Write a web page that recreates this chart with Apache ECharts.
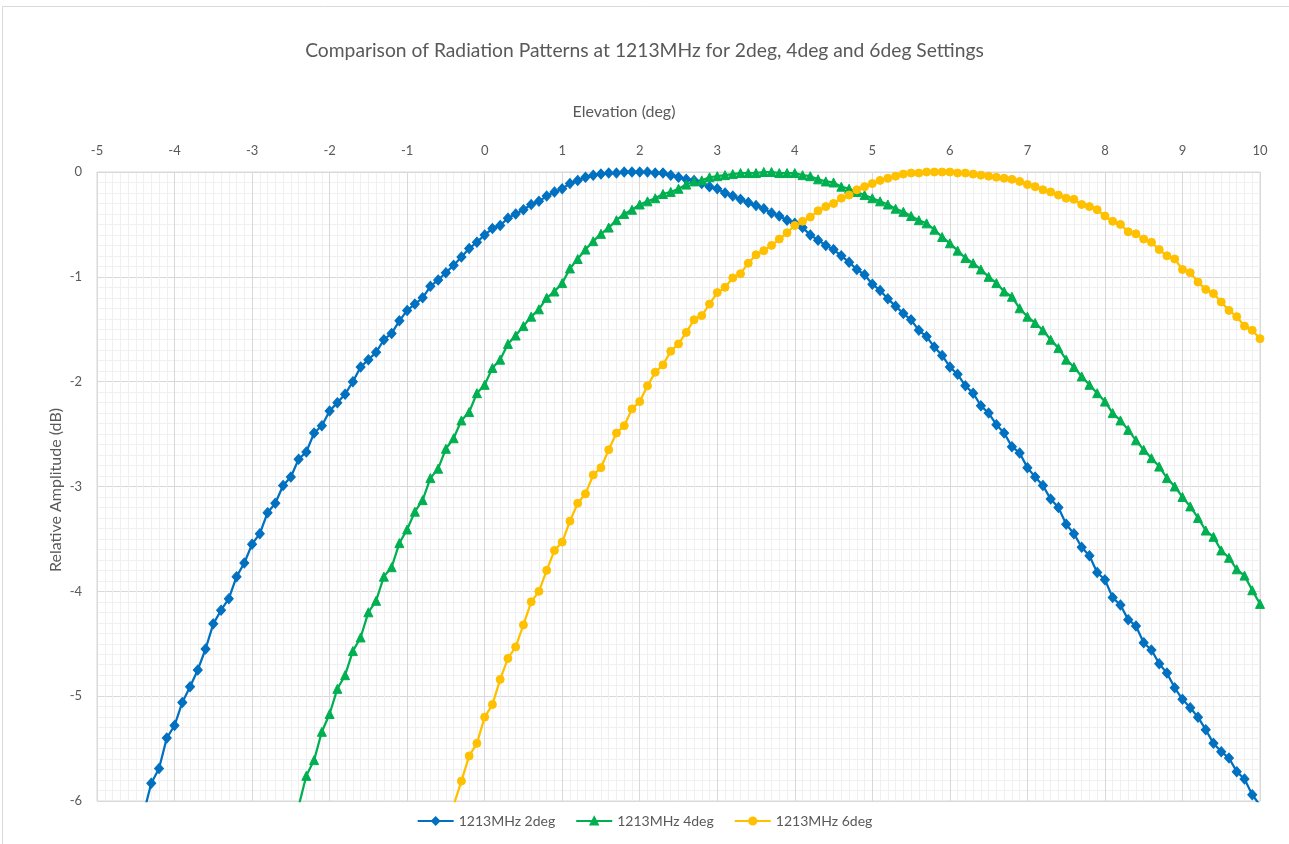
<!DOCTYPE html>
<html>
<head>
<meta charset="utf-8">
<script src="https://cdn.jsdelivr.net/npm/echarts@6/dist/echarts.min.js"></script>
<style>html,body{margin:0;padding:0;background:#fff}#c{width:1289px;height:844px}</style>
</head>
<body>
<div id="c"></div>
<script>
// Elevation (deg), one entry per measured point
const elevation = [
-4.4,-4.3,-4.2,-4.1,-4.0,-3.9,-3.8,-3.7,-3.6,-3.5,-3.4,-3.3,-3.2,-3.1,-3.0,-2.9,-2.8,-2.7,-2.6,-2.5,
-2.4,-2.3,-2.2,-2.1,-2.0,-1.9,-1.8,-1.7,-1.6,-1.5,-1.4,-1.3,-1.2,-1.1,-1.0,-0.9,-0.8,-0.7,-0.6,-0.5,
-0.4,-0.3,-0.2,-0.1,0.0,0.1,0.2,0.3,0.4,0.5,0.6,0.7,0.8,0.9,1.0,1.1,1.2,1.3,1.4,1.5,1.6,1.7,1.8,1.9,
2.0,2.1,2.2,2.3,2.4,2.5,2.6,2.7,2.8,2.9,3.0,3.1,3.2,3.3,3.4,3.5,3.6,3.7,3.8,3.9,
4.0,4.1,4.2,4.3,4.4,4.5,4.6,4.7,4.8,4.9,5.0,5.1,5.2,5.3,5.4,5.5,5.6,5.7,5.8,5.9,
6.0,6.1,6.2,6.3,6.4,6.5,6.6,6.7,6.8,6.9,7.0,7.1,7.2,7.3,7.4,7.5,7.6,7.7,7.8,7.9,
8.0,8.1,8.2,8.3,8.4,8.5,8.6,8.7,8.8,8.9,9.0,9.1,9.2,9.3,9.4,9.5,9.6,9.7,9.8,9.9,10.0
];

// 1213MHz 2deg (dB)
const amp2deg = [
-6.12,-5.83,-5.69,-5.40,-5.28,-5.06,-4.91,-4.75,-4.55,-4.31,-4.18,-4.07,-3.86,-3.73,-3.55,-3.45,-3.25,-3.16,-2.99,-2.91,
-2.74,-2.67,-2.49,-2.42,-2.28,-2.20,-2.12,-2.00,-1.86,-1.79,-1.72,-1.60,-1.54,-1.42,-1.32,-1.26,-1.20,-1.09,-1.03,-0.96,
-0.89,-0.81,-0.73,-0.67,-0.60,-0.54,-0.51,-0.44,-0.40,-0.36,-0.31,-0.28,-0.23,-0.19,-0.16,-0.11,-0.08,-0.05,-0.03,-0.02,-0.01,-0.01,0,0,
0,0,-0.01,-0.01,-0.03,-0.05,-0.07,-0.08,-0.11,-0.14,-0.16,-0.20,-0.23,-0.26,-0.29,-0.32,-0.35,-0.39,-0.42,-0.46,
-0.49,-0.53,-0.60,-0.65,-0.70,-0.74,-0.80,-0.86,-0.93,-0.98,-1.07,-1.13,-1.21,-1.28,-1.35,-1.41,-1.51,-1.57,-1.67,-1.75,
-1.86,-1.93,-2.04,-2.11,-2.23,-2.30,-2.41,-2.49,-2.62,-2.68,-2.82,-2.91,-2.99,-3.12,-3.20,-3.36,-3.45,-3.58,-3.66,-3.82,
-3.89,-4.06,-4.13,-4.27,-4.33,-4.49,-4.56,-4.69,-4.78,-4.92,-5.03,-5.11,-5.20,-5.32,-5.45,-5.53,-5.59,-5.72,-5.79,-5.94,-6.04
];

// 1213MHz 4deg (dB)
const amp4deg = [
null,null,null,null,null,null,null,null,null,null,null,null,null,null,null,null,null,null,null,null,
-6.05,-5.76,-5.61,-5.34,-5.17,-4.93,-4.80,-4.57,-4.44,-4.20,-4.09,-3.86,-3.77,-3.54,-3.41,-3.24,-3.13,-2.92,-2.83,-2.64,
-2.54,-2.37,-2.29,-2.11,-2.03,-1.87,-1.79,-1.64,-1.56,-1.47,-1.38,-1.31,-1.20,-1.14,-1.06,-0.92,-0.83,-0.74,-0.66,-0.59,-0.53,-0.46,-0.40,-0.36,
-0.31,-0.28,-0.25,-0.21,-0.19,-0.16,-0.12,-0.09,-0.08,-0.05,-0.04,-0.03,-0.02,-0.01,-0.01,-0.01,0,0,-0.01,-0.01,
-0.01,-0.03,-0.04,-0.07,-0.09,-0.10,-0.14,-0.16,-0.19,-0.22,-0.25,-0.28,-0.31,-0.35,-0.38,-0.42,-0.46,-0.49,-0.55,-0.62,
-0.68,-0.75,-0.82,-0.87,-0.93,-1.00,-1.06,-1.14,-1.19,-1.30,-1.38,-1.44,-1.51,-1.60,-1.68,-1.79,-1.86,-1.95,-2.03,-2.11,
-2.19,-2.30,-2.37,-2.46,-2.56,-2.65,-2.73,-2.81,-2.92,-3.00,-3.10,-3.19,-3.30,-3.42,-3.48,-3.61,-3.68,-3.79,-3.85,-3.99,-4.12
];

// 1213MHz 6deg (dB)
const amp6deg = [
null,null,null,null,null,null,null,null,null,null,null,null,null,null,null,null,null,null,null,null,
null,null,null,null,null,null,null,null,null,null,null,null,null,null,null,null,null,null,null,null,
-6.04,-5.81,-5.57,-5.45,-5.20,-5.08,-4.84,-4.64,-4.53,-4.32,-4.10,-4.00,-3.80,-3.61,-3.53,-3.33,-3.16,-3.07,-2.89,-2.82,-2.65,-2.49,-2.42,-2.26,
-2.19,-2.04,-1.91,-1.84,-1.71,-1.64,-1.53,-1.41,-1.37,-1.26,-1.15,-1.10,-1.01,-0.97,-0.87,-0.79,-0.75,-0.70,-0.64,-0.58,
-0.51,-0.47,-0.43,-0.37,-0.33,-0.30,-0.25,-0.22,-0.17,-0.14,-0.11,-0.08,-0.06,-0.04,-0.02,-0.01,-0.01,0,0,0,
0,-0.01,-0.01,-0.02,-0.03,-0.04,-0.05,-0.06,-0.07,-0.09,-0.12,-0.14,-0.17,-0.19,-0.22,-0.25,-0.26,-0.31,-0.33,-0.36,
-0.42,-0.47,-0.50,-0.57,-0.59,-0.64,-0.67,-0.74,-0.80,-0.83,-0.93,-0.96,-1.05,-1.12,-1.16,-1.24,-1.32,-1.38,-1.47,-1.51,-1.59
];

const seriesNames = ['1213MHz 2deg', '1213MHz 4deg', '1213MHz 6deg'];
const xTicks = { min: -5, max: 10, step: 1 };
const yTicks = { min: -6, max: 0, step: 1 };

function pairs(vals) {
  const out = [];
  for (let i = 0; i < elevation.length; i++) {
    if (vals[i] !== null && vals[i] !== undefined) out.push([elevation[i], vals[i]]);
  }
  return out;
}

const FONT = 'Lato, "Open Sans", sans-serif';
const TXT = '#595959';
const chart = echarts.init(document.getElementById('c'), null, { renderer: 'canvas' });

function mkSeries(name, vals, color, symbol, size) {
  return {
    name: name, type: 'line', data: pairs(vals),
    symbol: symbol, symbolSize: size, showSymbol: true,
    lineStyle: { color: color, width: 2.25 },
    itemStyle: { color: color, borderColor: color, borderWidth: 1 },
    emphasis: { disabled: true },
    clip: true, animation: false
  };
}

chart.setOption({
  animation: false,
  backgroundColor: '#ffffff',
  title: {
    text: 'Comparison of Radiation Patterns at 1213MHz for 2deg, 4deg and 6deg Settings',
    left: 'center', top: 36,
    textStyle: { color: TXT, fontFamily: FONT, fontSize: 19.25, fontWeight: 'normal' }
  },
  legend: {
    bottom: 11, left: 'center',
    itemWidth: 36, itemHeight: 9, itemGap: 20,
    textStyle: { color: TXT, fontFamily: FONT, fontSize: 14 },
    data: seriesNames
  },
  grid: {
    left: 97, right: 29, top: 172, bottom: 43,
    show: true, borderColor: '#d9d9d9', borderWidth: 1, containLabel: false
  },
  xAxis: {
    type: 'value', position: 'top',
    min: xTicks.min, max: xTicks.max, interval: xTicks.step,
    axisLine: { show: true, lineStyle: { color: '#d9d9d9' } },
    axisTick: { show: false },
    axisLabel: { color: TXT, fontFamily: FONT, fontSize: 13, margin: 15 },
    splitLine: { show: true, lineStyle: { color: '#d9d9d9', width: 1 } },
    minorTick: { show: false, splitNumber: 10 },
    minorSplitLine: { show: true, lineStyle: { color: '#f0f0f0', width: 1 } }
  },
  yAxis: {
    type: 'value',
    min: yTicks.min, max: yTicks.max, interval: yTicks.step,
    axisLine: { show: true, lineStyle: { color: '#d9d9d9' } },
    axisTick: { show: false },
    axisLabel: { color: TXT, fontFamily: FONT, fontSize: 13, margin: 15 },
    splitLine: { show: true, lineStyle: { color: '#d9d9d9', width: 1 } },
    minorTick: { show: false, splitNumber: 10 },
    minorSplitLine: { show: true, lineStyle: { color: '#f0f0f0', width: 1 } }
  },
  graphic: [
    { type: 'rect', silent: true, z: -10,
      shape: { x: 2.5, y: 6.5, width: 1400, height: 1000 },
      style: { fill: null, stroke: '#d9d9d9', lineWidth: 1 } },
    { type: 'text', x: 624, y: 112, silent: true,
      style: { text: 'Elevation (deg)', fill: TXT, font: '16px ' + FONT,
               align: 'center', verticalAlign: 'middle', textAlign: 'center', textVerticalAlign: 'middle' } },
    { type: 'text', x: 56, y: 490, rotation: Math.PI / 2, silent: true,
      style: { text: 'Relative Amplitude (dB)', fill: TXT, font: '16px ' + FONT,
               align: 'center', verticalAlign: 'middle', textAlign: 'center', textVerticalAlign: 'middle' } }
  ],
  series: [
    mkSeries(seriesNames[0], amp2deg, '#0070C0', 'diamond', [9, 10]),
    mkSeries(seriesNames[1], amp4deg, '#00B050', 'triangle', 9),
    mkSeries(seriesNames[2], amp6deg, '#FFC000', 'circle', 8)
  ]
});
</script>
</body>
</html>
